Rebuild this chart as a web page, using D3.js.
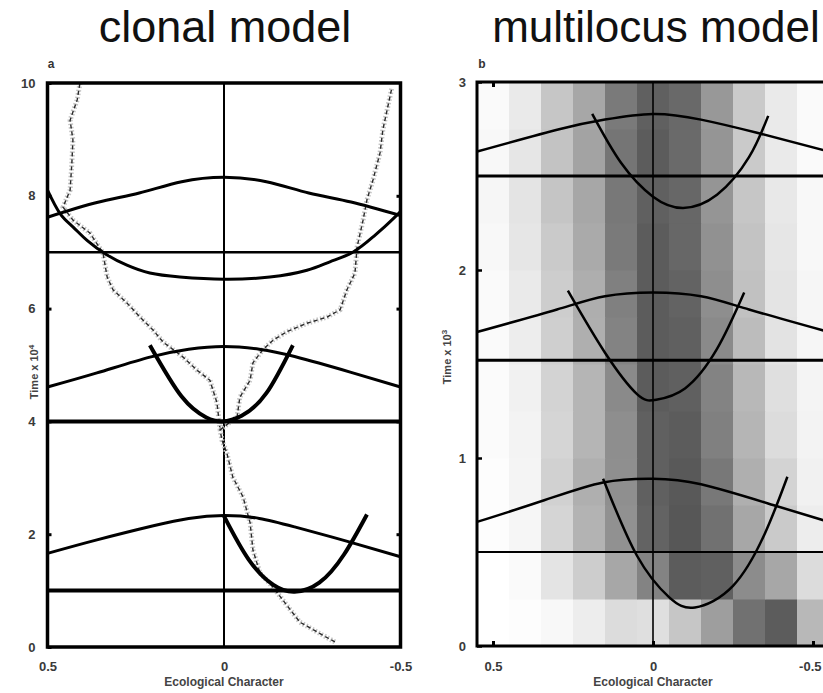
<!DOCTYPE html>
<html><head><meta charset="utf-8">
<script src="https://cdn.jsdelivr.net/npm/d3@7"></script>
<style>
body{margin:0;background:#fff;}
svg{display:block;}
.tick text{font-family:"Liberation Sans Narrow","Liberation Sans",sans-serif;font-weight:bold;fill:#3a3a3a;}
</style></head>
<body><svg id="c" width="823" height="693"></svg>
<script>
// ---------- DATA ----------
const titles = ["clonal model", "multilocus model"];
const panelLetters = ["a", "b"];
const xTickValues = [0.5, 0, -0.5];
const xTickLabels = ["0.5", "0", "-0.5"];
const yTicksLeft = [0, 2, 4, 6, 8, 10];
const yTicksRight = [0, 1, 2, 3];
const xTitle = "Ecological Character";

// clonal model (left)
const hLinesLeft = [7, 4, 1];
const humpLeftTop = [[0.5,7.62],[0.36,7.88],[0.24,8.05],[0.12,8.25],[0,8.33],[-0.12,8.25],[-0.24,8.05],[-0.36,7.89],[-0.5,7.65]];
const humpLeftMid = [[0.5,4.61],[0.36,4.86],[0.21,5.14],[0.1,5.28],[0,5.33],[-0.1,5.28],[-0.2,5.15],[-0.36,4.87],[-0.5,4.61]];
const humpLeftBot = [[0.5,1.66],[0.36,1.9],[0.2,2.15],[0.1,2.28],[0,2.33],[-0.1,2.28],[-0.2,2.13],[-0.357,1.86],[-0.5,1.6]];
const uLeftTop = [[0.5,8.1],[0.465,7.69],[0.428,7.45],[0.388,7.21],[0.331,6.95],[0.275,6.77],[0.21,6.63],[0.125,6.56],[0,6.52],[-0.13,6.56],[-0.235,6.68],[-0.3,6.83],[-0.365,7.0],[-0.422,7.27],[-0.46,7.48],[-0.5,7.72]];
const parabLeftMid = [[0.21,5.35],[0.12,4.44],[0.05,4.07],[0.005,4.0],[-0.05,4.1],[-0.12,4.5],[-0.195,5.35]];
const parabLeftBot = [[0.0,2.32],[-0.07,1.55],[-0.14,1.1],[-0.2,0.98],[-0.27,1.14],[-0.34,1.64],[-0.405,2.35]];
const walkTrunk = [[-0.314,0.09],[-0.26,0.28],[-0.215,0.44],[-0.167,0.83],[-0.139,1.06],[-0.102,1.31],[-0.082,1.72],[-0.074,2.2],[-0.054,2.66],[-0.025,3.01],[-0.008,3.44],[0.006,3.67],[0.011,3.85]];
const walkLeft = [[0.011,3.85],[0.02,4.33],[0.04,4.73],[0.077,4.91],[0.116,5.14],[0.173,5.41],[0.201,5.62],[0.238,5.85],[0.275,6.1],[0.314,6.33],[0.331,6.56],[0.343,6.99],[0.38,7.34],[0.428,7.57],[0.456,7.8],[0.436,8.1],[0.431,8.58],[0.428,8.99],[0.436,9.34],[0.416,9.7],[0.408,10.0]];
const walkRight = [[0.011,3.85],[-0.037,4.08],[-0.045,4.43],[-0.074,4.73],[-0.082,5.04],[-0.11,5.27],[-0.139,5.44],[-0.178,5.59],[-0.235,5.74],[-0.292,5.85],[-0.329,5.98],[-0.348,6.33],[-0.371,6.63],[-0.377,7.09],[-0.394,7.57],[-0.405,7.93],[-0.422,8.28],[-0.442,8.76],[-0.45,9.17],[-0.462,9.52],[-0.476,9.93]];

// multilocus model (right)
const hLinesRight = [2.5, 1.52, 0.5];
const humpRightTop = [[0.55,2.63],[0.29,2.75],[0.15,2.8],[0,2.83],[-0.15,2.8],[-0.325,2.73],[-0.55,2.63]];
const humpRightMid = [[0.55,1.67],[0.3,1.79],[0.15,1.86],[0,1.88],[-0.15,1.86],[-0.3,1.79],[-0.55,1.67]];
const humpRightBot = [[0.55,0.66],[0.34,0.775],[0.156,0.87],[0,0.89],[-0.15,0.86],[-0.375,0.75],[-0.55,0.66]];
const parabRightTop = [[0.19,2.83],[0.1,2.57],[0,2.39],[-0.094,2.33],[-0.2,2.4],[-0.3,2.6],[-0.36,2.82]];
const parabRightMid = [[0.266,1.89],[0.15,1.56],[0.05,1.34],[-0.01,1.31],[-0.1,1.37],[-0.2,1.58],[-0.285,1.88]];
const parabRightBot = [[0.156,0.89],[0.05,0.48],[-0.05,0.26],[-0.131,0.205],[-0.25,0.32],[-0.35,0.6],[-0.42,0.9]];
// heatmap: columns (character bins) x time bands (density 0..1)
const heatColumns = [0.5, 0.4, 0.3, 0.2, 0.1, 0, -0.1, -0.2, -0.3, -0.4, -0.5];
const heatTimeEdges = [0, 0.25, 0.5, 0.75, 1.0, 1.25, 1.5, 1.75, 2.0, 2.25, 2.5, 2.75, 3.0];
const heatValues = [
  [0.0, 0.01, 0.04, 0.1, 0.2, 0.18, 0.32, 0.55, 0.8, 0.92, 0.4],
  [0.0, 0.03, 0.15, 0.28, 0.5, 0.7, 0.92, 0.9, 0.65, 0.5, 0.2],
  [0.01, 0.05, 0.24, 0.43, 0.62, 0.88, 0.95, 0.8, 0.5, 0.3, 0.1],
  [0.01, 0.06, 0.26, 0.45, 0.63, 0.9, 0.94, 0.76, 0.45, 0.25, 0.08],
  [0.02, 0.07, 0.24, 0.42, 0.64, 0.9, 0.92, 0.72, 0.42, 0.2, 0.07],
  [0.02, 0.08, 0.25, 0.42, 0.66, 0.92, 0.9, 0.7, 0.4, 0.18, 0.06],
  [0.03, 0.1, 0.27, 0.45, 0.7, 0.92, 0.9, 0.66, 0.38, 0.16, 0.05],
  [0.03, 0.12, 0.28, 0.46, 0.72, 0.92, 0.88, 0.64, 0.35, 0.15, 0.05],
  [0.04, 0.14, 0.3, 0.48, 0.75, 0.92, 0.86, 0.62, 0.34, 0.14, 0.04],
  [0.05, 0.15, 0.33, 0.5, 0.76, 0.9, 0.86, 0.6, 0.32, 0.13, 0.04],
  [0.04, 0.14, 0.34, 0.52, 0.78, 0.92, 0.84, 0.6, 0.3, 0.12, 0.03],
  [0.03, 0.12, 0.32, 0.5, 0.75, 0.9, 0.85, 0.58, 0.3, 0.12, 0.03]
];

// ---------- DRAW ----------
const svg = d3.select("#c");
const xL = d3.scaleLinear().domain([0.5, -0.5]).range([47.5, 400.5]);
const yL = d3.scaleLinear().domain([0, 10]).range([647, 83]);
const xR = d3.scaleLinear().domain([0.55, -0.55]).range([477, 829]);
const yR = d3.scaleLinear().domain([0, 3]).range([646, 82]);
const gray = d3.scaleLinear().domain([0, 1]).range(["#ffffff", "#4e4e4e"]);
const fmtInt = d3.format("d");

// titles
svg.selectAll("text.title").data(titles).join("text")
  .attr("class","title")
  .attr("x",(d,i)=> i===0 ? 225 : 656).attr("y",42)
  .attr("text-anchor","middle")
  .attr("font-family","'Liberation Sans', Arial, sans-serif")
  .attr("font-size",(d,i)=> i===0 ? 45 : 44).attr("fill","#111").text(d=>d);

svg.selectAll("text.letter").data(panelLetters).join("text")
  .attr("class","letter")
  .attr("x",(d,i)=> i===0 ? 51 : 482).attr("y",68)
  .attr("text-anchor","middle")
  .attr("font-family","'Liberation Sans Narrow', sans-serif").attr("font-weight","bold")
  .attr("font-size",12).attr("fill","#333").text(d=>d);

const lineL = d3.line().x(d=>xL(d[0])).y(d=>yL(d[1])).curve(d3.curveNatural);
const lineR = d3.line().x(d=>xR(d[0])).y(d=>yR(d[1])).curve(d3.curveNatural);

// ---- left panel ----
const gL = svg.append("g");
gL.append("line").attr("x1",xL(0)).attr("x2",xL(0)).attr("y1",yL(0)).attr("y2",yL(10))
  .attr("stroke","#000").attr("stroke-width",2);
// walk
const walkLine = d3.line().x(d=>xL(d[0])).y(d=>yL(d[1]));
[walkTrunk, walkLeft, walkRight].forEach(w=>{
  gL.append("path").attr("d",walkLine(w)).attr("fill","none")
    .attr("stroke","#c4c4c4").attr("stroke-width",5).attr("stroke-dasharray","1.5,2");
  gL.append("path").attr("d",walkLine(w)).attr("fill","none")
    .attr("stroke","#2a2a2a").attr("stroke-width",1.4).attr("stroke-dasharray","4,3");
});
gL.selectAll("line.h").data(hLinesLeft).join("line").attr("class","h")
  .attr("x1",xL(0.5)).attr("x2",xL(-0.5)).attr("y1",d=>yL(d)).attr("y2",d=>yL(d))
  .attr("stroke","#000").attr("stroke-width",(d,i)=> i===0 ? 2.5 : 4);
[humpLeftTop, humpLeftMid, humpLeftBot].forEach(h=>{
  gL.append("path").attr("d",lineL(h)).attr("fill","none").attr("stroke","#000").attr("stroke-width",3);
});
gL.append("path").attr("d",lineL(uLeftTop)).attr("fill","none").attr("stroke","#000").attr("stroke-width",3);
[parabLeftMid, parabLeftBot].forEach(p=>{
  gL.append("path").attr("d",lineL(p)).attr("fill","none").attr("stroke","#000").attr("stroke-width",4);
});
gL.append("rect").attr("x",xL(0.5)).attr("y",yL(10)).attr("width",xL(-0.5)-xL(0.5)).attr("height",yL(0)-yL(10))
  .attr("fill","none").attr("stroke","#000").attr("stroke-width",3.5);

// left axes
const axLy = gL.append("g").attr("transform",`translate(${xL(0.5)},0)`)
  .call(d3.axisLeft(yL).tickValues(yTicksLeft).tickFormat(fmtInt).tickSize(-4).tickPadding(12));
axLy.select(".domain").remove();
axLy.selectAll(".tick line").attr("stroke-width",3);
axLy.selectAll(".tick text").attr("font-size",13);
const axLy2 = gL.append("g").attr("transform",`translate(${xL(-0.5)},0)`)
  .call(d3.axisRight(yL).tickValues(yTicksLeft.slice(1,-1)).tickSize(-4).tickFormat(""));
axLy2.select(".domain").remove();
axLy2.selectAll(".tick line").attr("stroke-width",3);
const axLx = gL.append("g").attr("transform",`translate(0,${yL(0)})`)
  .call(d3.axisBottom(xL).tickValues(xTickValues).tickFormat((d,i)=>xTickLabels[i]).tickSize(0).tickPadding(15));
axLx.select(".domain").remove();
axLx.selectAll(".tick text").attr("font-size",13);
gL.append("text").attr("x",xL(0)).attr("y",686).attr("text-anchor","middle")
  .attr("font-family","'Liberation Sans Narrow', sans-serif").attr("font-weight","bold")
  .attr("font-size",12).attr("fill","#444").text(xTitle);
const tL = gL.append("text").attr("transform","translate(38,372) rotate(-90)").attr("text-anchor","middle")
  .attr("font-family","'Liberation Sans Narrow', sans-serif").attr("font-weight","bold")
  .attr("font-size",11).attr("fill","#444");
tL.append("tspan").text("Time x 10");
tL.append("tspan").attr("dy",-4).attr("font-size",8).text("4");

// ---- right panel ----
const gR = svg.append("g");
const clip = svg.append("clipPath").attr("id","clipR");
clip.append("rect").attr("x",xR(0.55)).attr("y",yR(3)).attr("width",xR(-0.55)-xR(0.55)).attr("height",yR(0)-yR(3));
const heat = gR.append("g").attr("clip-path","url(#clipR)");
heatValues.forEach((row, ri)=>{
  heat.selectAll(null).data(row).join("rect")
    .attr("x",(d,ci)=>xR(heatColumns[ci]+0.05))
    .attr("width",(d,ci)=>xR(heatColumns[ci]-0.05)-xR(heatColumns[ci]+0.05)+0.5)
    .attr("y",yR(heatTimeEdges[ri+1]))
    .attr("height",yR(heatTimeEdges[ri])-yR(heatTimeEdges[ri+1])+0.5)
    .attr("fill",d=>gray(d));
});
gR.append("line").attr("x1",xR(0)).attr("x2",xR(0)).attr("y1",yR(0)).attr("y2",yR(3))
  .attr("stroke","#000").attr("stroke-width",1.6);
gR.selectAll("line.h").data(hLinesRight).join("line").attr("class","h")
  .attr("x1",xR(0.55)).attr("x2",xR(-0.55)).attr("y1",d=>yR(d)).attr("y2",d=>yR(d))
  .attr("stroke","#000").attr("stroke-width",(d,i)=> i===2 ? 2 : 3);
[humpRightTop, humpRightMid, humpRightBot, parabRightTop, parabRightMid, parabRightBot].forEach(h=>{
  gR.append("path").attr("d",lineR(h)).attr("fill","none").attr("stroke","#000").attr("stroke-width",2.5);
});
gR.append("rect").attr("x",xR(0.55)).attr("y",yR(3)).attr("width",xR(-0.55)-xR(0.55)).attr("height",yR(0)-yR(3))
  .attr("fill","none").attr("stroke","#000").attr("stroke-width",3);
const axRy = gR.append("g").attr("transform",`translate(${xR(0.55)},0)`)
  .call(d3.axisLeft(yR).tickValues(yTicksRight).tickFormat(fmtInt).tickSize(-5).tickPadding(11));
axRy.select(".domain").remove();
axRy.selectAll(".tick line").attr("stroke-width",2.5);
axRy.selectAll(".tick text").attr("font-size",13);
const axRx = gR.append("g").attr("transform",`translate(0,${yR(0)})`)
  .call(d3.axisBottom(xR).tickValues(xTickValues).tickFormat((d,i)=>xTickLabels[i]).tickSize(-5).tickPadding(16));
axRx.select(".domain").remove();
axRx.selectAll(".tick line").attr("stroke-width",3);
axRx.selectAll(".tick text").attr("font-size",13)
  .filter((d,i)=> i===2).attr("text-anchor","end").attr("x",8);
const axRxTop = gR.append("g").attr("transform",`translate(0,${yR(3)})`)
  .call(d3.axisTop(xR).tickValues([0.5]).tickSize(-5).tickFormat(""));
axRxTop.select(".domain").remove();
axRxTop.selectAll(".tick line").attr("stroke-width",3);
gR.append("text").attr("x",xR(0)).attr("y",686).attr("text-anchor","middle")
  .attr("font-family","'Liberation Sans Narrow', sans-serif").attr("font-weight","bold")
  .attr("font-size",12).attr("fill","#444").text(xTitle);
const tR = gR.append("text").attr("transform","translate(451,357) rotate(-90)").attr("text-anchor","middle")
  .attr("font-family","'Liberation Sans Narrow', sans-serif").attr("font-weight","bold")
  .attr("font-size",11).attr("fill","#444");
tR.append("tspan").text("Time x 10");
tR.append("tspan").attr("dy",-4).attr("font-size",8).text("3");
</script></body></html>
